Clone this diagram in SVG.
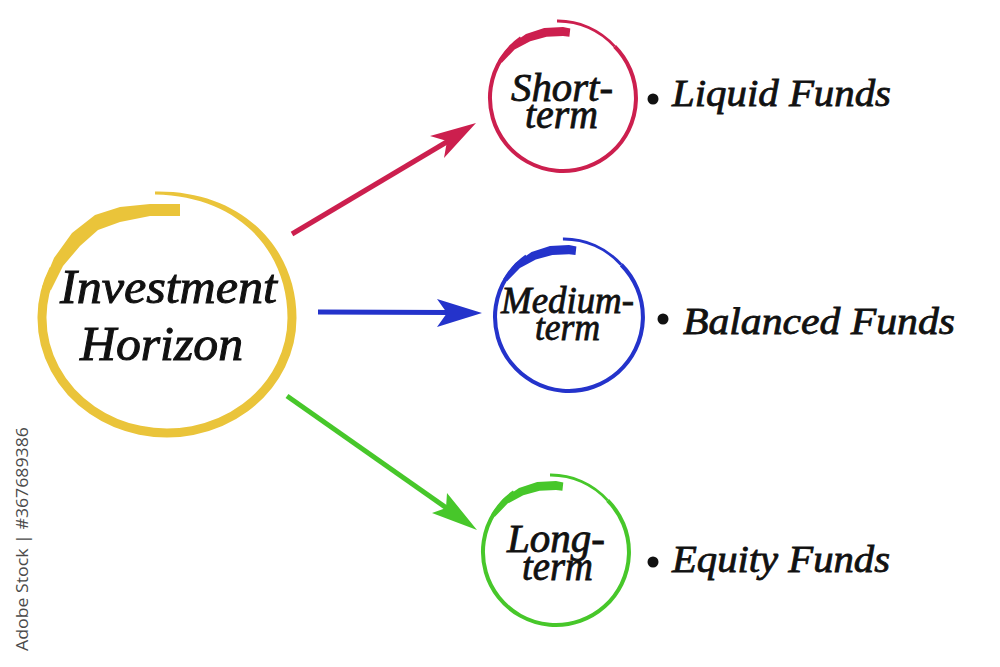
<svg xmlns="http://www.w3.org/2000/svg" width="1000" height="667" viewBox="0 0 1000 667">
<style>
.lbl{font-family:"Liberation Serif","Times New Roman",serif;font-style:italic;fill:#111;stroke:#111;stroke-width:0.8}
.big{stroke-width:1}
.wm{font-family:"Open Sans","Liberation Sans",sans-serif;fill:#4a4a4a}
</style>
<defs>
  <g id="small-ring">
    <polygon fill="currentColor" points="-64.95,-37.5 -53.03,-53.03 -37,-64.1 -18.8,-70 0,-71 7.3,-69.6 6.4,-61.2 0,-62 -16.4,-61.3 -32.75,-56.7 -48.4,-48.4 -61.1,-35.25"/>
    <path d="M -41.9 -59.8 A 73 73 0 1 0 51.6 -51.6" fill="none" stroke="currentColor" stroke-width="4"/>
    <path d="M 51.6 -51.6 A 76 76 0 0 0 -6 -77" fill="none" stroke="currentColor" stroke-width="2.8"/>
  </g>
</defs>
<rect width="1000" height="667" fill="#ffffff"/>

<g id="connectors">
  <line x1="292" y1="234" x2="450" y2="140" stroke="#CC1F4E" stroke-width="5"/>
  <polygon points="476,123 430,136 447,141 444,158" fill="#CC1F4E"/>
  <line x1="318" y1="312" x2="450" y2="312.5" stroke="#2433CB" stroke-width="5"/>
  <polygon points="482,313 437,299 447,313 437,327" fill="#2433CB"/>
  <line x1="287" y1="396" x2="448" y2="509" stroke="#47C72A" stroke-width="5"/>
  <polygon points="477,530 447,493 446,508 432,513" fill="#47C72A"/>
</g>

<g id="investment-horizon">
  <path d="M 53.7 269.4 A 125 115 0 1 0 292 318" fill="none" stroke="#EAC43A" stroke-width="9"/>
  <path d="M 296.5 318 C 296.5 248, 242 190, 155 191.5 L 155 194.5 C 240 196, 287.5 252, 287.5 318 Z" fill="#EAC43A"/>
  <polygon fill="#EAC43A" points="42,287 54,258 72,233 95,215 120,207 150,204 180,204 180,216 150,216 120,222 98,230 80,246 63,266 51,290"/>
  <text class="lbl big" x="60" y="303" font-size="48" textLength="217" lengthAdjust="spacingAndGlyphs">Investment</text>
  <text class="lbl big" x="80" y="360" font-size="48" textLength="163" lengthAdjust="spacingAndGlyphs">Horizon</text>
</g>

<g id="short-term">
  <use href="#small-ring" transform="translate(563,98)" style="color:#CC1F4E"/>
  <text class="lbl" x="511" y="101" font-size="40" textLength="102" lengthAdjust="spacingAndGlyphs">Short-</text>
  <text class="lbl" x="525" y="128" font-size="40" textLength="73" lengthAdjust="spacingAndGlyphs">term</text>
</g>

<g id="medium-term">
  <use href="#small-ring" transform="translate(569,317) scale(1.013)" style="color:#2433CB"/>
  <text class="lbl" x="501" y="313" font-size="37" textLength="133" lengthAdjust="spacingAndGlyphs">Medium-</text>
  <text class="lbl" x="535" y="340" font-size="37" textLength="65" lengthAdjust="spacingAndGlyphs">term</text>
</g>

<g id="long-term">
  <use href="#small-ring" transform="translate(556,552)" style="color:#47C72A"/>
  <text class="lbl" x="507" y="552" font-size="40" textLength="98" lengthAdjust="spacingAndGlyphs">Long-</text>
  <text class="lbl" x="522" y="580" font-size="40" textLength="71" lengthAdjust="spacingAndGlyphs">term</text>
</g>

<g id="liquid-funds">
  <circle cx="653" cy="99" r="5.5" fill="#111"/>
  <text class="lbl" x="672" y="106" font-size="38" textLength="219" lengthAdjust="spacingAndGlyphs">Liquid Funds</text>
</g>
<g id="balanced-funds">
  <circle cx="663" cy="319" r="5.5" fill="#111"/>
  <text class="lbl" x="683" y="334" font-size="38" textLength="272" lengthAdjust="spacingAndGlyphs">Balanced Funds</text>
</g>
<g id="equity-funds">
  <circle cx="653" cy="562" r="5.5" fill="#111"/>
  <text class="lbl" x="672" y="572" font-size="38" textLength="218" lengthAdjust="spacingAndGlyphs">Equity Funds</text>
</g>

<text class="wm" font-size="17" transform="translate(28,651) rotate(-90)" textLength="224" lengthAdjust="spacingAndGlyphs">Adobe Stock | #367689386</text>
</svg>
